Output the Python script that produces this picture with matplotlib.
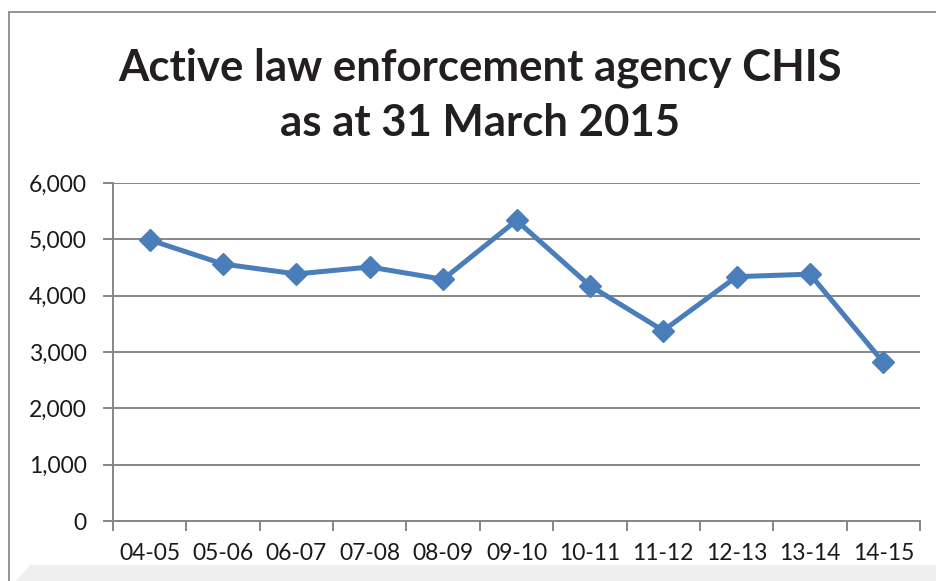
import matplotlib
matplotlib.use("Agg")
import matplotlib.pyplot as plt
from matplotlib.patches import Polygon
from matplotlib.lines import Line2D

periods = ["04-05", "05-06", "06-07", "07-08", "08-09", "09-10",
           "10-11", "11-12", "12-13", "13-14", "14-15"]
chis = [4990, 4562, 4385, 4509, 4290, 5335, 4177, 3380, 4337, 4382, 2818]
yticks = [0, 1000, 2000, 3000, 4000, 5000, 6000]
ytick_labels = ["0", "1,000", "2,000", "3,000", "4,000", "5,000", "6,000"]
title_lines = ["Active law enforcement agency CHIS", "as at 31 March 2015"]

plt.rcParams['font.family'] = ['Lato', 'DejaVu Sans']

W, H = 936, 581
fig = plt.figure(figsize=(W / 100, H / 100), dpi=100)
fig.patch.set_facecolor("white")

# outer chart frame (extends past the right/bottom edges)
frame_col = "#8c8c8c"
fig.add_artist(Line2D([9 / W, 9 / W], [1 - 12 / H, 0], transform=fig.transFigure,
                      color=frame_col, lw=1.3))
fig.add_artist(Line2D([9 / W, 1.0], [1 - 12 / H, 1 - 12 / H], transform=fig.transFigure,
                      color=frame_col, lw=1.3))
# light grey band at the bottom
band = Polygon([[16 / W, 0], [30 / W, 16 / H], [1.0, 16 / H], [1.0, 0]],
               closed=True, transform=fig.transFigure, facecolor="#efefef",
               edgecolor="none")
fig.add_artist(band)

ax = fig.add_axes([113 / W, 1 - 521 / H, (920 - 113) / W, (521 - 183) / H])
x = list(range(len(periods)))
ax.plot(x, chis, color="#4a7ebb", lw=3.6, marker="D", markersize=11.5,
        markerfacecolor="#4a7ebb", markeredgecolor="#4a7ebb", zorder=3,
        solid_joinstyle="round")

ax.set_xlim(-0.5, len(periods) - 0.5)
ax.set_ylim(0, 6000)
ax.set_yticks(yticks)
ax.set_yticklabels(ytick_labels)
ax.set_xticks(x)
ax.set_xticklabels(periods)
ax.set_xticks([i - 0.5 for i in range(len(periods) + 1)], minor=True)

grid_col = "#868686"
ax.grid(axis="y", color=grid_col, lw=1.4)
ax.set_axisbelow(True)
for s in ["top", "right"]:
    ax.spines[s].set_visible(False)
ax.spines["left"].set_color(grid_col)
ax.spines["left"].set_linewidth(1.4)
ax.spines["bottom"].set_color(grid_col)
ax.spines["bottom"].set_linewidth(1.4)

ax.tick_params(axis="y", length=7, width=1.4, color=grid_col, labelsize=16.5,
               labelcolor="#1a1a1a", pad=12)
ax.tick_params(axis="x", which="major", length=0, labelsize=16.5,
               labelcolor="#1a1a1a", pad=16)
ax.tick_params(axis="x", which="minor", length=7, width=1.4, color=grid_col)

fig.text(480 / W, 1 - 68 / H, title_lines[0], ha="center", va="center",
         fontsize=31.5, fontweight="bold", color="#231f20")
fig.text(480 / W, 1 - 123 / H, title_lines[1], ha="center", va="center",
         fontsize=31.5, fontweight="bold", color="#231f20")

fig.savefig("out.png", dpi=100)
